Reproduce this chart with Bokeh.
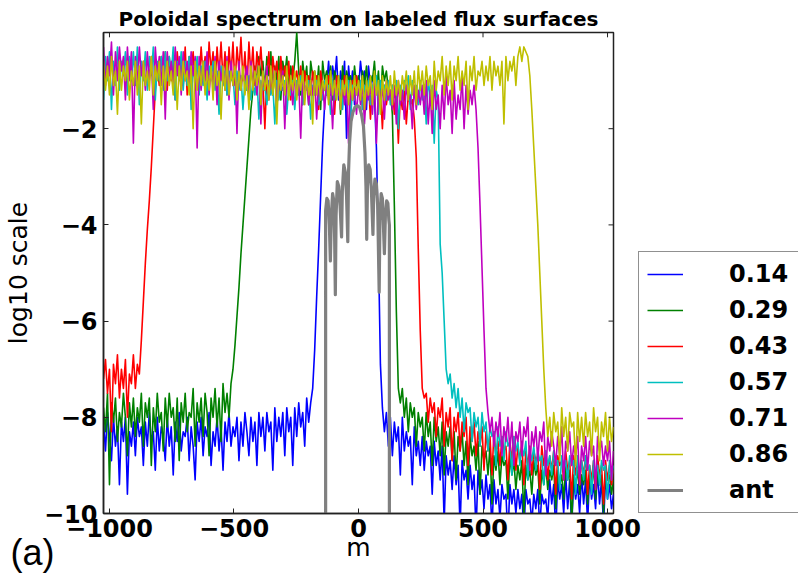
import numpy as np
from bokeh.plotting import figure
from bokeh.models import (Range1d, FixedTicker, Legend, LegendItem, Title,
                          CustomJSTickFormatter)
from bokeh.embed import file_html
from bokeh.resources import INLINE

# ---------------- data: log10 amplitude vs poloidal mode number m ----------------
# every series is sampled at m = -1024, -1016, ..., 1024 (rows of 16 = 128 in m)
M_START = -1024
M_STEP = 8

labels = ["0.14", "0.29", "0.43", "0.57", "0.71", "0.86", "ant"]
colors = ["#0000ff", "#008000", "#ff0000", "#00bfbf", "#bf00bf", "#bfbf00", "#808080"]

s014 = [
    -8.1, -8.7, -7.9, -8.4, -8.9, -8.0, -8.6, -8.2, -9.4, -8.1, -8.5, -8.0, -9.6, -8.3, -8.6, -8.1,
    -8.8, -8.0, -8.4, -8.2, -9.0, -8.1, -8.6, -7.9, -8.5, -8.3, -9.1, -8.0, -8.7, -8.2, -8.4, -8.9,
    -8.0, -8.6, -8.2, -9.2, -8.1, -8.5, -7.9, -8.7, -8.3, -8.4, -8.0, -8.9, -8.2, -8.6, -9.3, -8.1,
    -8.5, -8.0, -8.8, -8.2, -8.4, -7.9, -9.0, -8.3, -8.6, -8.0, -8.7, -8.2, -9.1, -8.1, -8.5, -7.9,
    -8.6, -8.2, -8.4, -8.0, -8.9, -8.1, -8.6, -7.9, -8.3, -8.8, -8.0, -8.5, -8.1, -9.0, -7.9, -8.4,
    -8.0, -8.7, -7.9, -8.3, -8.1, -9.1, -7.8, -8.5, -8.0, -8.4, -7.9, -8.8, -7.8, -8.3, -8.0, -9.0,
    -7.8, -8.4, -7.7, -8.2, -7.9, -8.6, -7.6, -8.1, -7.7, -7.4, -6.6, -5.5, -4.5, -3.4, -2.3, -1.5,
    -1.1, -0.6, -1.3, -0.7, -1.0, -0.5, -1.4, -0.8, -1.1, -0.6, -2.2, -0.7, -1.2, -0.8, -1.5, -0.9,
    -1.2, -0.6, -1.0, -0.8, -1.6, -0.7, -1.1, -0.9, -1.3, -2.4, -4.5, -6.9, -7.8, -8.3, -7.9, -8.6,
    -8.0, -8.8, -8.1, -8.5, -8.2, -9.2, -8.0, -8.7, -8.3, -8.6, -8.4, -9.4, -8.2, -8.8, -8.5, -9.0,
    -8.4, -9.1, -8.5, -8.8, -8.6, -9.6, -8.5, -9.0, -8.7, -9.3, -8.6, -10.2, -8.8, -9.2, -8.9, -9.5,
    -8.8, -9.4, -9.0, -10.3, -8.9, -9.3, -9.1, -9.7, -9.0, -9.5, -9.2, -10.4, -9.1, -9.6, -9.3, -9.9,
    -9.2, -9.7, -9.4, -10.3, -9.3, -9.8, -9.5, -10.1, -9.4, -9.7, -9.6, -10.5, -9.4, -9.8, -9.5, -10.0,
    -9.5, -9.9, -9.6, -10.4, -9.5, -9.8, -9.7, -10.2, -9.6, -9.9, -9.5, -10.3, -9.6, -9.8, -9.7, -10.1,
    -9.3, -9.8, -9.4, -10.4, -9.3, -9.7, -9.4, -10.0, -9.2, -9.9, -9.3, -10.3, -9.3, -9.7, -9.4, -10.0,
    -9.2, -9.8, -9.3, -10.2, -9.2, -9.7, -9.4, -9.9, -9.1, -9.8, -9.3, -10.3, -9.2, -9.7, -9.4, -9.9,
    -9.6,
]
s029 = [
    -7.8, -8.3, -7.5, -9.4, -7.7, -8.1, -7.6, -8.5, -7.9, -8.2, -7.5, -8.0, -8.8, -7.7, -8.2, -7.6,
    -8.4, -7.8, -8.1, -7.5, -8.6, -7.7, -8.0, -7.6, -9.0, -7.8, -8.3, -7.5, -8.1, -7.9, -8.7, -7.6,
    -8.2, -7.5, -8.0, -7.8, -8.5, -7.6, -8.9, -7.7, -8.1, -7.5, -8.3, -7.9, -8.0, -7.4, -8.6, -7.7,
    -8.1, -7.6, -8.4, -7.5, -7.9, -8.8, -7.6, -8.0, -7.4, -8.2, -7.6, -8.5, -7.3, -7.9, -7.5, -8.0,
    -7.3, -7.0, -6.5, -5.9, -5.3, -4.6, -4.0, -3.4, -2.8, -2.2, -1.6, -1.2, -0.7, -1.1, -0.5, -0.9,
    -0.6, -1.2, -0.5, -0.9, -0.4, -1.3, -0.7, -1.0, -0.5, -1.4, -0.6, -0.9, -0.5, -1.2, -0.7, -1.0,
    -0.6, 0.0, -0.8, -1.3, -0.6, -1.0, -0.7, -1.5, -0.6, -0.9, -0.8, -1.2, -0.7, -1.6, -0.6, -1.0,
    -0.8, -1.1, -0.7, -1.4, -0.8, -1.0, -0.9, -1.7, -0.7, -1.2, -0.8, -1.0, -0.9, -1.3, -0.7, -1.1,
    -0.9, -1.4, -0.8, -1.1, -0.7, -1.3, -0.9, -1.0, -0.6, -1.2, -0.8, -1.5, -0.7, -1.0, -0.8, -1.2,
    -1.2, -1.7, -3.6, -5.8, -7.4, -7.7, -7.4, -8.0, -7.6, -8.3, -7.7, -8.0, -7.8, -8.6, -7.9, -8.2,
    -8.0, -8.7, -7.9, -8.4, -8.1, -9.0, -8.0, -8.5, -8.2, -8.8, -8.1, -9.2, -8.3, -8.6, -8.2, -8.9,
    -8.3, -9.3, -8.4, -8.7, -8.3, -9.0, -8.5, -9.4, -8.4, -8.8, -8.6, -9.1, -8.5, -9.6, -8.6, -8.9,
    -8.7, -9.2, -8.6, -9.8, -8.8, -9.1, -8.7, -9.4, -8.8, -9.0, -8.9, -9.7, -8.8, -9.2, -8.9, -9.5,
    -9.0, -9.3, -8.9, -10.1, -9.0, -9.3, -9.1, -9.6, -8.9, -9.2, -9.0, -9.8, -9.1, -9.4, -9.0, -9.5,
    -9.1, -9.3, -9.0, -9.9, -9.1, -9.4, -9.2, -9.7, -9.0, -9.3, -9.1, -10.2, -9.2, -9.4, -9.1, -9.6,
    -9.2, -9.4, -9.1, -9.8, -9.2, -9.5, -9.0, -9.7, -9.1, -9.4, -9.2, -10.0, -9.1, -9.3, -9.2, -9.6,
    -9.3,
]
s043 = [
    -7.2, -6.8, -7.5, -7.0, -8.3, -6.9, -7.3, -6.7, -7.6, -7.0, -7.4, -6.8, -8.0, -7.1, -7.3, -6.7,
    -7.4, -6.9, -7.1, -6.4, -5.6, -4.8, -4.1, -3.5, -2.8, -2.0, -1.2, -0.7, -1.1, -0.5, -0.9, -0.4,
    -1.2, -0.5, -1.0, -0.6, -1.4, -0.4, -0.9, -0.6, -1.1, -0.3, -1.3, -0.5, -0.8, -0.4, -1.2, -0.6,
    -1.0, -0.3, -0.9, -0.5, -1.2, -0.2, -0.8, -0.4, -1.1, -0.3, -0.9, -0.2, -1.0, -0.4, -1.3, -0.3,
    -0.9, -0.2, -1.1, -0.3, -0.8, -0.1, -1.0, -0.4, -1.2, -0.2, -0.9, -0.3, -1.1, -0.4, -0.8, -0.3,
    -1.0, -2.0, -0.9, -0.4, -1.2, -0.5, -0.9, -0.6, -1.3, -0.5, -1.0, -0.7, -1.1, -0.6, -1.4, -0.7,
    -1.0, -0.8, -1.2, -0.7, -1.5, -0.8, -1.1, -0.9, -1.3, -0.8, -1.2, -0.9, -1.6, -0.8, -1.1, -1.0,
    -1.3, -0.9, -1.2, -1.0, -1.7, -0.9, -1.1, -1.0, -1.4, -0.9, -1.2, -1.1, -1.5, -1.0, -1.3, -0.9,
    -1.2, -1.0, -1.6, -1.1, -1.3, -1.0, -1.8, -1.1, -1.2, -1.0, -1.4, -1.2, -2.0, -1.1, -1.5, -1.2,
    -1.4, -1.1, -1.7, -1.2, -2.3, -1.3, -1.6, -1.2, -1.9, -1.3, -1.5, -1.4, -1.8, -2.6, -4.5, -6.2,
    -7.4, -7.6, -7.5, -8.1, -7.6, -7.9, -7.7, -8.4, -7.8, -8.0, -7.6, -8.6, -7.9, -8.2, -7.8, -8.9,
    -8.0, -8.3, -7.9, -8.7, -8.1, -8.4, -8.0, -9.0, -8.2, -8.5, -8.1, -8.8, -8.3, -8.6, -8.2, -9.1,
    -8.3, -8.7, -8.4, -9.2, -8.3, -8.8, -8.5, -9.0, -8.4, -8.7, -8.6, -9.3, -8.5, -8.9, -8.4, -9.1,
    -8.6, -8.9, -8.5, -9.4, -8.7, -9.0, -8.6, -9.2, -8.7, -8.9, -8.8, -9.5, -8.6, -9.0, -8.7, -9.3,
    -8.8, -9.1, -8.7, -9.6, -8.8, -9.0, -8.9, -9.3, -8.7, -9.1, -8.9, -9.7, -8.8, -9.2, -8.9, -9.4,
    -8.9, -9.2, -8.8, -9.6, -9.0, -9.3, -8.9, -9.5, -8.8, -9.2, -9.0, -9.8, -8.9, -9.3, -9.0, -9.4,
    -9.1,
]
s057 = [
    -1.4, -0.5, -1.0, -0.4, -1.6, -0.6, -1.1, -0.3, -1.2, -0.6, -0.9, -0.4, -1.3, -0.5, -1.0, -0.4,
    -1.1, -0.3, -1.5, -0.6, -1.0, -0.4, -1.2, -0.5, -0.9, -0.3, -1.4, -0.6, -1.0, -0.5, -1.2, -0.4,
    -1.0, -0.5, -0.9, -0.3, -1.4, -0.6, -1.0, -0.4, -1.2, -0.6, -1.1, -0.5, -1.6, -0.7, -1.0, -0.5,
    -1.3, -0.7, -1.1, -0.6, -1.4, -0.7, -1.0, -0.6, -1.2, -0.8, -1.7, -0.7, -1.1, -0.8, -1.3, -0.8,
    -1.0, -0.9, -1.5, -0.8, -1.2, -0.9, -1.6, -1.0, -1.2, -0.9, -1.4, -1.0, -1.3, -0.9, -1.8, -1.0,
    -1.2, -1.1, -1.5, -1.0, -1.3, -1.1, -1.9, -1.0, -1.4, -1.1, -1.2, -1.0, -1.7, -1.1, -1.3, -1.0,
    -1.6, -1.0, -1.3, -0.9, -1.5, -1.1, -1.2, -1.0, -1.8, -1.1, -1.3, -1.0, -1.5, -1.2, -1.4, -1.0,
    -1.3, -1.1, -1.7, -1.0, -1.4, -1.2, -1.3, -1.0, -1.6, -1.1, -1.2, -1.0, -1.9, -1.1, -1.4, -1.2,
    -1.3, -1.0, -1.6, -1.1, -1.2, -1.0, -1.5, -1.1, -1.3, -0.9, -1.7, -1.0, -1.2, -1.1, -1.4, -1.0,
    -1.5, -1.1, -1.3, -1.0, -2.0, -1.1, -1.4, -1.0, -1.2, -0.9, -1.6, -1.0, -1.3, -1.1, -1.5, -1.0,
    -1.4, -1.1, -1.9, -1.0, -1.3, -1.1, -2.3, -1.2, -1.4, -4.4, -5.0, -6.0, -7.0, -7.3, -7.1, -7.6,
    -7.3, -7.8, -7.4, -8.0, -7.6, -8.3, -7.7, -7.9, -7.8, -8.5, -7.9, -8.2, -8.0, -8.6, -7.9, -8.3,
    -8.1, -8.7, -8.2, -8.4, -8.3, -9.0, -8.2, -8.6, -8.4, -8.9, -8.3, -8.6, -8.5, -9.2, -8.4, -8.7,
    -8.5, -9.0, -8.6, -8.8, -8.5, -9.3, -8.7, -8.9, -8.6, -9.1, -8.7, -8.9, -8.8, -9.4, -8.7, -9.0,
    -8.8, -9.2, -8.7, -9.0, -8.9, -9.5, -8.8, -9.1, -8.9, -9.3, -8.8, -9.0, -8.9, -9.6, -8.8, -9.2,
    -8.9, -9.3, -8.8, -9.1, -9.0, -9.6, -8.9, -9.2, -9.0, -9.4, -8.9, -9.1, -9.0, -9.7, -8.9, -9.3,
    -9.0,
]
s071 = [
    -0.3, -1.1, -0.5, -0.9, -0.2, -1.3, -0.4, -1.0, -0.3, -0.8, -0.5, -1.4, -0.3, -1.0, -0.4, -2.3,
    -0.5, -1.1, -0.3, -0.9, -0.6, -1.2, -0.4, -1.0, -0.5, -1.6, -0.3, -0.9, -0.5, -1.1, -0.4, -1.8,
    -0.4, -1.0, -0.6, -1.2, -0.3, -0.9, -0.5, -1.3, -0.4, -1.0, -0.6, -1.1, -0.4, -0.9, -0.5, -2.4,
    -0.5, -1.2, -0.6, -1.0, -0.4, -1.3, -0.7, -1.1, -0.5, -1.5, -0.6, -1.0, -0.7, -1.2, -0.5, -1.4,
    -0.6, -1.1, -0.7, -2.1, -0.6, -1.2, -0.8, -1.0, -0.7, -1.4, -0.6, -1.1, -0.8, -1.3, -0.7, -1.9,
    -0.8, -1.2, -0.7, -1.4, -0.9, -1.1, -0.8, -1.6, -0.9, -1.2, -0.8, -2.0, -0.9, -1.3, -1.0, -1.5,
    -0.9, -1.3, -1.0, -2.2, -0.9, -1.2, -1.1, -1.5, -1.0, -1.3, -0.9, -1.8, -1.0, -1.4, -1.1, -1.6,
    -1.0, -1.4, -1.1, -2.0, -1.0, -1.3, -1.2, -1.6, -1.0, -1.5, -1.1, -2.3, -1.0, -1.4, -1.2, -1.7,
    -1.1, -1.5, -1.0, -1.9, -1.2, -1.4, -1.1, -1.7, -1.0, -2.3, -1.2, -1.5, -1.1, -1.8, -1.0, -1.4,
    -1.2, -1.6, -1.1, -1.9, -1.0, -1.5, -1.2, -1.8, -1.1, -1.4, -1.3, -2.0, -1.1, -1.6, -1.2, -1.5,
    -1.1, -1.7, -1.0, -1.9, -1.2, -2.1, -1.0, -1.6, -1.3, -2.0, -1.1, -1.8, -0.9, -1.5, -1.2, -2.1,
    -1.0, -1.8, -1.3, -1.6, -0.9, -2.0, -1.1, -1.7, -1.2, -1.5, -1.1, -1.6, -2.4, -3.6, -4.9, -6.2,
    -7.4, -7.9, -8.3, -8.0, -8.6, -8.1, -8.4, -7.9, -8.8, -8.2, -8.5, -8.0, -8.7, -8.1, -9.0, -8.3,
    -8.5, -8.1, -8.8, -8.2, -8.4, -8.0, -9.1, -8.3, -8.6, -8.2, -8.9, -8.3, -8.5, -8.1, -9.2, -8.4,
    -8.7, -8.3, -8.6, -9.0, -8.4, -8.8, -8.2, -9.3, -8.5, -8.7, -8.3, -9.0, -8.6, -8.8, -8.4, -9.4,
    -8.6, -8.9, -8.4, -9.1, -8.5, -8.8, -8.6, -9.5, -8.4, -8.7, -8.5, -9.0, -8.6, -8.9, -8.5, -9.3,
    -8.7,
]
s086 = [
    -0.6, -1.2, -0.7, -1.3, -0.5, -1.1, -0.8, -1.7, -0.6, -1.2, -0.7, -1.0, -0.6, -1.4, -0.8, -1.1,
    -0.6, -1.3, -0.7, -1.9, -0.6, -1.1, -0.8, -1.2, -0.5, -1.3, -0.7, -1.0, -0.6, -1.5, -0.7, -1.2,
    -0.6, -1.1, -0.8, -1.3, -0.6, -1.6, -0.7, -1.2, -0.6, -1.0, -0.8, -1.3, -0.7, -2.0, -0.6, -1.2,
    -0.7, -1.1, -0.6, -1.3, -0.8, -1.2, -0.7, -1.4, -0.6, -1.1, -0.8, -1.8, -0.7, -1.2, -0.6, -1.3,
    -0.8, -1.1, -0.7, -1.4, -0.8, -1.2, -0.7, -1.3, -0.9, -1.6, -0.7, -1.2, -0.8, -1.1, -0.7, -1.5,
    -0.8, -1.2, -0.9, -1.4, -0.7, -1.3, -0.8, -1.9, -0.8, -1.2, -0.9, -1.3, -0.7, -1.4, -0.9, -1.2,
    -0.8, -1.4, -0.9, -1.2, -0.8, -1.5, -0.9, -1.3, -1.0, -1.9, -0.8, -1.3, -0.9, -1.4, -1.0, -1.2,
    -0.9, -1.5, -0.8, -1.3, -1.0, -1.4, -0.9, -1.6, -1.0, -1.3, -0.9, -1.5, -1.0, -1.4, -0.9, -1.3,
    -1.0, -1.4, -0.9, -1.6, -1.0, -1.3, -0.9, -1.5, -0.8, -1.3, -1.0, -1.7, -0.9, -1.4, -1.0, -1.3,
    -0.9, -1.5, -0.8, -1.3, -1.0, -1.4, -0.9, -1.2, -0.8, -1.4, -0.9, -1.3, -0.8, -1.5, -0.7, -1.2,
    -0.8, -1.3, -0.7, -1.1, -0.9, -1.6, -0.6, -1.2, -0.8, -1.0, -0.5, -1.3, -0.7, -1.1, -0.6, -1.4,
    -0.7, -1.0, -0.5, -1.2, -0.8, -1.1, -0.6, -1.6, -0.7, -1.0, -0.5, -1.2, -0.8, -0.9, -0.6, -1.1,
    -0.7, -1.0, -0.5, -1.2, -0.6, -0.9, -0.7, -1.1, -0.6, -1.9, -0.5, -1.0, -0.6, -0.8, -0.5, -1.1,
    -0.5, -0.3, -0.6, -0.3, -0.4, -0.5, -0.9, -1.6, -2.4, -3.2, -4.0, -5.0, -6.0, -7.0, -7.8, -8.4,
    -8.0, -8.6, -7.9, -8.3, -8.1, -8.9, -7.8, -8.4, -8.0, -8.7, -7.9, -8.2, -8.1, -9.0, -7.9, -8.5,
    -8.0, -8.6, -7.9, -8.4, -8.1, -8.8, -7.8, -8.3, -8.0, -8.9, -8.1, -8.4, -7.9, -8.7, -8.0, -8.5,
    -8.2,
]
ant_m = [-132, -132, -127, -122, -117, -113, -109, -104, -99, -96,
         -93, -90, -85, -79, -74, -68, -65, -59, -53, -48,
         -43, -40, -36, -30, -22, -14, -5, 4, 12, 20,
         26, 30, 33, 36, 41, 47, 52, 58, 61, 66,
         72, 77, 83, 86, 91, 96, 100, 104, 108, 113,
         118, 122, 124, 124]
ant_v = [-10.5, -3.7, -3.45, -3.5, -4.0, -4.75, -3.8, -3.35, -3.5, -4.2,
         -5.45, -3.8, -3.1, -3.2, -3.6, -4.25, -3.3, -2.75, -2.9, -3.4,
         -4.35, -2.9, -2.3, -1.85, -1.65, -1.55, -1.52, -1.55, -1.7, -1.95,
         -2.5, -3.2, -4.3, -3.2, -2.75, -2.85, -3.3, -4.2, -3.4, -3.05,
         -3.15, -3.6, -5.4, -3.9, -3.35, -3.45, -4.0, -4.6, -3.8, -3.5,
         -3.55, -3.9, -4.0, -10.5]

x_ticks = [-1000, -500, 0, 500, 1000]
y_ticks = [-10, -8, -6, -4, -2]

series = [s014, s029, s043, s057, s071, s086]
for s in series:
    assert len(s) == 257, len(s)
assert len(ant_m) == len(ant_v)

# ---------------- figure ----------------
FONT = "DejaVu Sans"
X0, X1, Y0, Y1 = -1024, 1024, -10, 0
p = figure(frame_width=510, frame_height=481, output_backend="svg", toolbar_location=None,
           x_range=Range1d(X0, X1), y_range=Range1d(Y0, Y1),
           min_border_left=103, min_border_right=185, min_border_top=32,
           min_border_bottom=60)
p.background_fill_color = "white"
p.border_fill_color = "white"
p.xgrid.grid_line_color = None
p.ygrid.grid_line_color = None
p.outline_line_color = "#222222"
p.outline_line_width = 1.5

p.title.text = "Poloidal spectrum on labeled flux surfaces"
p.title.text_font = FONT
p.title.text_font_size = "20px"
p.title.text_font_style = "bold"
p.title.text_color = "black"
p.title.align = "center"
p.title.standoff = 4

renderers = []
for s, c in zip(series, colors[:6]):
    m = M_START + M_STEP * np.arange(len(s))
    r = p.line(m, s, line_color=c, line_width=1.6, line_join="round")
    renderers.append(r)
r_ant = p.line(ant_m, ant_v, line_color=colors[6], line_width=3.2, line_join="round")
renderers.append(r_ant)

fmt = CustomJSTickFormatter(code="return (tick < 0 ? '\u2212' : '') + Math.abs(tick).toFixed(0);")

for ax, ticks in ((p.xaxis, x_ticks), (p.yaxis, y_ticks)):
    ax.ticker = FixedTicker(ticks=ticks)
    ax.formatter = fmt
    ax.major_label_text_font = FONT
    ax.major_label_text_font_size = "24px"
    ax.major_label_text_font_style = "bold"
    ax.major_label_text_color = "black"
    ax.major_tick_in = 5
    ax.major_tick_out = 0
    ax.minor_tick_line_color = None
    ax.axis_line_color = "#222222"
    ax.axis_line_width = 1.5
    ax.major_tick_line_color = "#222222"
    ax.axis_label_text_font = FONT
    ax.axis_label_text_font_size = "25px"
    ax.axis_label_text_font_style = "normal"
    ax.axis_label_text_color = "black"

p.xaxis.axis_label = "m"
p.yaxis.axis_label = "log10 scale"
p.xaxis.major_label_standoff = 5
p.yaxis.major_label_standoff = 6
p.xaxis.axis_label_standoff = -7
p.yaxis.axis_label_standoff = 8

# inward ticks on the top and right spines (matplotlib style box)
TICK_DY = 0.1   # 5 px in y units
TICK_DX = 20    # 5 px in m units
p.segment(x0=x_ticks, y0=[Y1] * len(x_ticks), x1=x_ticks, y1=[Y1 - TICK_DY] * len(x_ticks),
          line_color="#222222", line_width=1)
p.segment(x0=[X1] * len(y_ticks), y0=y_ticks, x1=[X1 - TICK_DX] * len(y_ticks), y1=y_ticks,
          line_color="#222222", line_width=1)

items = [LegendItem(label=lab, renderers=[r]) for lab, r in zip(labels, renderers)]
leg = Legend(items=items, location=(25, 0),
             label_text_font=FONT, label_text_font_size="24px",
             label_text_font_style="bold", label_text_color="black",
             glyph_width=36, glyph_height=28, label_height=28, label_width=80,
             label_standoff=46, spacing=8, padding=8, margin=0,
             border_line_color="#222222", border_line_width=1.5,
             background_fill_color="white", background_fill_alpha=1.0)
p.add_layout(leg, "right")

# panel tag "(a)" in the lower-left corner
tag = Title(text="(a)", align="left", vertical_align="top", offset=-93, standoff=-66,
            text_font="Liberation Sans", text_font_size="36px",
            text_font_style="normal", text_color="black")
p.add_layout(tag, "below")

open("out.html", "w").write(file_html(p, INLINE))
